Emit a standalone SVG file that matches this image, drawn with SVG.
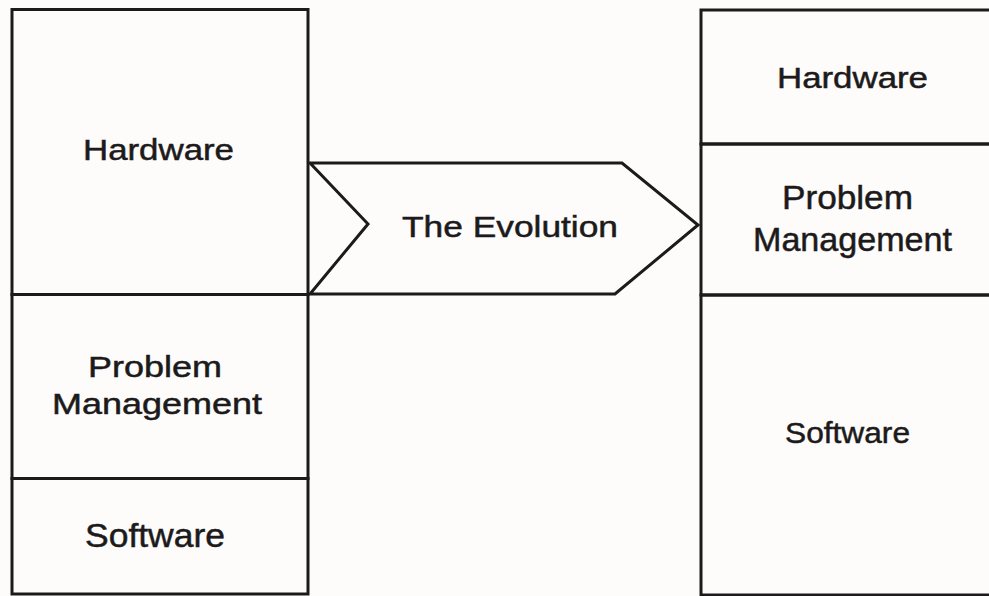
<svg xmlns="http://www.w3.org/2000/svg" width="989" height="596" viewBox="0 0 989 596">
<style>
.box{fill:none;stroke:#1c1a1a;stroke-width:3}
.ln{stroke:#1c1a1a;stroke-width:3;fill:none;stroke-linejoin:miter}
.t{font-family:"Liberation Sans",Arial,sans-serif;font-size:30px;fill:#1c1a1a;stroke:#1c1a1a;stroke-width:0.5;text-anchor:middle}
.big{font-size:34px}
</style>
<rect width="989" height="596" fill="#fdfcfb"/>
<g id="left-stack">
<g id="left-hardware">
<rect class="box" x="12" y="9.5" width="296" height="285"/>
<text class="t" x="158.5" y="160" textLength="151" lengthAdjust="spacingAndGlyphs">Hardware</text>
</g>
<g id="left-problem">
<rect class="box" x="12" y="294.5" width="296" height="184"/>
<text class="t" x="155" y="377" textLength="134" lengthAdjust="spacingAndGlyphs">Problem</text>
<text class="t" x="157" y="414" textLength="210" lengthAdjust="spacingAndGlyphs">Management</text>
</g>
<g id="left-software">
<rect class="box" x="12" y="478.5" width="296" height="115.5"/>
<text class="t big" x="155" y="547" textLength="140" lengthAdjust="spacingAndGlyphs">Software</text>
</g>
</g>
<g id="evolution">
<polygon class="ln" points="310,163 622,163 698,225 615,294 310,294 368,224"/>
<text class="t" x="510" y="237" textLength="216" lengthAdjust="spacingAndGlyphs">The Evolution</text>
</g>
<g id="right-stack">
<g id="right-hardware">
<rect class="box" x="701" y="10" width="300" height="134"/>
<text class="t" x="852.5" y="88" textLength="151" lengthAdjust="spacingAndGlyphs">Hardware</text>
</g>
<g id="right-problem">
<rect class="box" x="701" y="144" width="300" height="151"/>
<text class="t big" x="847.5" y="209" textLength="131" lengthAdjust="spacingAndGlyphs">Problem</text>
<text class="t big" x="852.5" y="251" textLength="199" lengthAdjust="spacingAndGlyphs">Management</text>
</g>
<g id="right-software">
<rect class="box" x="701" y="295" width="300" height="300"/>
<text class="t" x="847.5" y="443" textLength="125" lengthAdjust="spacingAndGlyphs">Software</text>
</g>
</g>
<g id="connectors"></g>
</svg>
